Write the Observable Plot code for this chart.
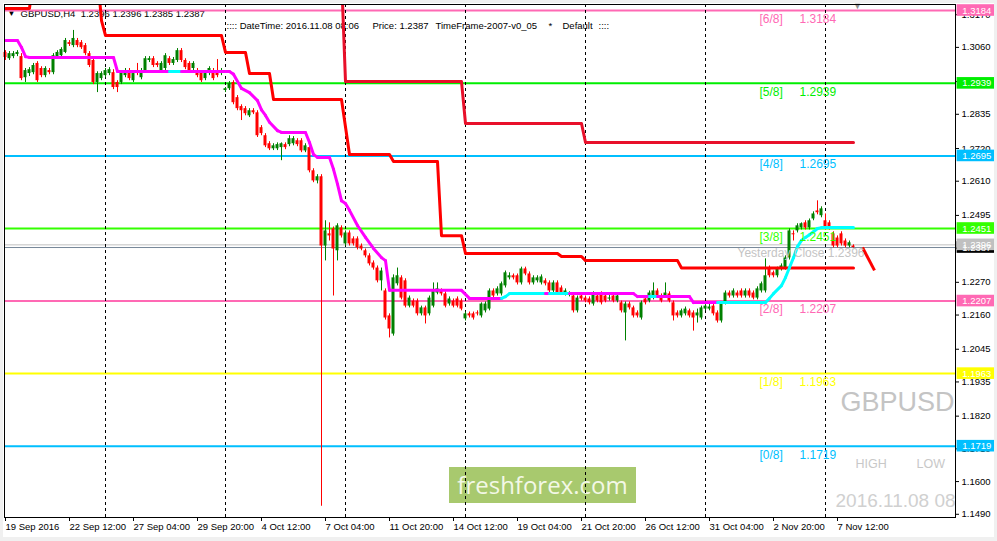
<!DOCTYPE html>
<html><head><meta charset="utf-8">
<script src="https://cdn.jsdelivr.net/npm/d3@7"></script>
<script src="https://cdn.jsdelivr.net/npm/@observablehq/plot@0.6"></script>
<style>
html,body{margin:0;padding:0;background:#fff;}
#wrap{position:relative;width:997px;height:541px;background:#f0f0f0;overflow:hidden;}
#inner{position:absolute;left:3px;top:3px;width:991px;height:534px;background:#fff;}
#wrap svg{position:absolute;left:0;top:0;}
</style></head><body><div id="wrap"><div id="inner"></div></div>
<script>
// ---- DATA ----
// H4 candles [open, high, low, close], bar index 0..212
const candlesOHLC = [
[1.3043,1.3049,1.3016,1.3026],[1.3022,1.3046,1.3016,1.3039],[1.3029,1.3046,1.3022,1.3039],[1.3036,1.3049,1.3029,1.3043],
[1.3029,1.3039,1.2948,1.2955],[1.2958,1.2989,1.2942,1.2982],[1.2972,1.2992,1.2962,1.2985],[1.2975,1.3006,1.2968,1.2999],
[1.3006,1.3012,1.2942,1.2948],[1.2989,1.2995,1.2958,1.2965],[1.2965,1.2995,1.2958,1.2989],[1.2982,1.2989,1.2968,1.2975],
[1.2975,1.3039,1.2968,1.3032],[1.3029,1.3049,1.3022,1.3043],[1.3032,1.3059,1.3026,1.3053],[1.3043,1.3090,1.3039,1.3083],
[1.3076,1.3083,1.3063,1.3070],[1.3066,1.3117,1.3059,1.3090],[1.3083,1.3090,1.3059,1.3066],[1.3076,1.3083,1.3053,1.3059],
[1.3066,1.3073,1.3032,1.3039],[1.3039,1.3046,1.2992,1.2999],[1.3016,1.3022,1.2935,1.2942],[1.2942,1.2978,1.2908,1.2972],
[1.2955,1.2978,1.2948,1.2972],[1.2965,1.2989,1.2958,1.2982],[1.2972,1.2992,1.2965,1.2985],[1.2975,1.2985,1.2918,1.2925],
[1.2942,1.2948,1.2908,1.2925],[1.2942,1.2982,1.2935,1.2975],[1.2965,1.2989,1.2958,1.2982],[1.2982,1.2989,1.2948,1.2955],
[1.2948,1.2978,1.2942,1.2972],[1.2982,1.3006,1.2965,1.2972],[1.2958,1.2989,1.2951,1.2982],[1.2982,1.3029,1.2975,1.3022],
[1.3016,1.3029,1.3009,1.3022],[1.3022,1.3029,1.2992,1.2999],[1.3006,1.3012,1.2992,1.2999],[1.2982,1.3012,1.2975,1.3006],
[1.2989,1.3039,1.2982,1.3032],[1.3022,1.3029,1.2999,1.3006],[1.3006,1.3026,1.2999,1.3019],[1.3016,1.3056,1.3009,1.3049],
[1.3049,1.3056,1.3009,1.3016],[1.3016,1.3022,1.2985,1.2992],[1.3006,1.3012,1.2975,1.2982],[1.2989,1.3012,1.2982,1.3006],
[1.2982,1.2989,1.2958,1.2965],[1.2975,1.2982,1.2942,1.2948],[1.2955,1.2978,1.2948,1.2972],[1.2972,1.2995,1.2965,1.2989],
[1.2982,1.2989,1.2948,1.2955],[1.2982,1.3019,1.2958,1.2965],[1.2972,1.2989,1.2965,1.2982],[1.2915,1.2925,1.2908,1.2921],
[1.2921,1.2945,1.2915,1.2938],[1.2942,1.2948,1.2867,1.2874],[1.2891,1.2898,1.2847,1.2854],[1.2861,1.2867,1.2814,1.2847],
[1.2854,1.2861,1.2830,1.2837],[1.2830,1.2854,1.2824,1.2847],[1.2847,1.2854,1.2834,1.2840],[1.2840,1.2847,1.2757,1.2763],
[1.2790,1.2797,1.2763,1.2770],[1.2763,1.2770,1.2723,1.2729],[1.2736,1.2743,1.2713,1.2719],[1.2719,1.2736,1.2713,1.2729],
[1.2719,1.2739,1.2713,1.2733],[1.2723,1.2739,1.2679,1.2736],[1.2733,1.2739,1.2716,1.2723],[1.2733,1.2763,1.2726,1.2753],
[1.2736,1.2760,1.2729,1.2753],[1.2746,1.2753,1.2726,1.2733],[1.2746,1.2753,1.2706,1.2712],[1.2712,1.2736,1.2706,1.2729],
[1.2723,1.2729,1.2638,1.2645],[1.2645,1.2652,1.2605,1.2611],[1.2611,1.2632,1.2601,1.2625],[1.2625,1.2632,1.1517,1.2392],
[1.2392,1.2477,1.2342,1.2443],[1.2433,1.2470,1.2409,1.2426],[1.2450,1.2456,1.2224,1.2382],[1.2376,1.2467,1.2342,1.2460],
[1.2453,1.2460,1.2419,1.2426],[1.2399,1.2443,1.2392,1.2436],[1.2436,1.2443,1.2392,1.2399],[1.2416,1.2423,1.2392,1.2399],
[1.2416,1.2423,1.2379,1.2386],[1.2392,1.2399,1.2376,1.2382],[1.2376,1.2382,1.2352,1.2359],[1.2359,1.2366,1.2325,1.2332],
[1.2335,1.2342,1.2311,1.2318],[1.2318,1.2325,1.2268,1.2275],[1.2275,1.2318,1.2241,1.2308],[1.2241,1.2248,1.2143,1.2150],
[1.2157,1.2164,1.2083,1.2113],[1.2096,1.2295,1.2089,1.2285],[1.2265,1.2318,1.2258,1.2292],[1.2285,1.2292,1.2211,1.2217],
[1.2275,1.2282,1.2184,1.2190],[1.2190,1.2224,1.2184,1.2217],[1.2207,1.2214,1.2184,1.2190],[1.2207,1.2214,1.2157,1.2164],
[1.2164,1.2190,1.2157,1.2184],[1.2184,1.2190,1.2130,1.2157],[1.2164,1.2224,1.2157,1.2217],[1.2190,1.2268,1.2184,1.2241],
[1.2234,1.2268,1.2228,1.2248],[1.2241,1.2248,1.2224,1.2231],[1.2231,1.2238,1.2184,1.2190],[1.2197,1.2221,1.2190,1.2214],
[1.2207,1.2214,1.2184,1.2190],[1.2214,1.2221,1.2184,1.2190],[1.2207,1.2214,1.2174,1.2180],[1.2147,1.2170,1.2140,1.2164],
[1.2164,1.2170,1.2150,1.2157],[1.2164,1.2170,1.2143,1.2150],[1.2167,1.2174,1.2157,1.2164],[1.2157,1.2201,1.2150,1.2197],
[1.2174,1.2204,1.2167,1.2197],[1.2180,1.2248,1.2174,1.2241],[1.2241,1.2248,1.2217,1.2224],[1.2231,1.2255,1.2224,1.2248],
[1.2231,1.2271,1.2224,1.2265],[1.2258,1.2308,1.2251,1.2302],[1.2285,1.2302,1.2278,1.2292],[1.2292,1.2298,1.2278,1.2285],
[1.2292,1.2298,1.2261,1.2268],[1.2268,1.2321,1.2261,1.2315],[1.2315,1.2321,1.2292,1.2298],[1.2298,1.2305,1.2261,1.2268],
[1.2268,1.2292,1.2261,1.2285],[1.2275,1.2292,1.2268,1.2285],[1.2268,1.2295,1.2261,1.2288],[1.2275,1.2282,1.2258,1.2265],
[1.2268,1.2275,1.2234,1.2241],[1.2241,1.2275,1.2234,1.2268],[1.2268,1.2275,1.2228,1.2234],[1.2251,1.2258,1.2228,1.2234],
[1.2231,1.2248,1.2224,1.2241],[1.2228,1.2238,1.2221,1.2231],[1.2224,1.2231,1.2167,1.2174],[1.2174,1.2224,1.2167,1.2217],
[1.2224,1.2231,1.2207,1.2214],[1.2217,1.2224,1.2201,1.2207],[1.2214,1.2221,1.2194,1.2201],[1.2197,1.2238,1.2190,1.2231],
[1.2224,1.2231,1.2201,1.2207],[1.2231,1.2238,1.2194,1.2201],[1.2224,1.2231,1.2201,1.2207],[1.2214,1.2228,1.2207,1.2217],
[1.2224,1.2231,1.2201,1.2207],[1.2207,1.2231,1.2201,1.2224],[1.2201,1.2207,1.2167,1.2174],[1.2167,1.2204,1.2073,1.2197],
[1.2197,1.2204,1.2177,1.2184],[1.2184,1.2190,1.2150,1.2157],[1.2167,1.2174,1.2150,1.2157],[1.2150,1.2207,1.2143,1.2201],
[1.2214,1.2221,1.2194,1.2201],[1.2207,1.2241,1.2201,1.2234],[1.2217,1.2268,1.2211,1.2241],[1.2241,1.2248,1.2217,1.2224],
[1.2224,1.2231,1.2201,1.2207],[1.2224,1.2268,1.2217,1.2234],[1.2231,1.2238,1.2201,1.2207],[1.2201,1.2207,1.2140,1.2157],
[1.2167,1.2174,1.2150,1.2157],[1.2157,1.2180,1.2150,1.2174],[1.2164,1.2187,1.2157,1.2180],[1.2174,1.2180,1.2150,1.2157],
[1.2167,1.2174,1.2106,1.2150],[1.2157,1.2180,1.2133,1.2167],[1.2150,1.2190,1.2143,1.2184],[1.2180,1.2197,1.2174,1.2190],
[1.2180,1.2201,1.2174,1.2187],[1.2190,1.2197,1.2157,1.2164],[1.2167,1.2174,1.2133,1.2140],[1.2140,1.2204,1.2133,1.2197],
[1.2201,1.2241,1.2194,1.2234],[1.2234,1.2241,1.2217,1.2224],[1.2224,1.2248,1.2217,1.2241],[1.2234,1.2241,1.2217,1.2224],
[1.2241,1.2248,1.2217,1.2224],[1.2224,1.2248,1.2217,1.2241],[1.2241,1.2248,1.2217,1.2224],[1.2234,1.2241,1.2211,1.2217],
[1.2217,1.2255,1.2211,1.2248],[1.2241,1.2271,1.2234,1.2265],[1.2241,1.2349,1.2234,1.2292],[1.2318,1.2325,1.2285,1.2292],
[1.2302,1.2308,1.2285,1.2292],[1.2292,1.2321,1.2285,1.2315],[1.2315,1.2332,1.2308,1.2325],[1.2318,1.2359,1.2311,1.2352],
[1.2352,1.2450,1.2345,1.2443],[1.2433,1.2443,1.2409,1.2430],[1.2443,1.2467,1.2436,1.2460],[1.2453,1.2470,1.2446,1.2467],
[1.2470,1.2477,1.2446,1.2453],[1.2453,1.2483,1.2446,1.2477],[1.2483,1.2507,1.2477,1.2500],[1.2510,1.2544,1.2497,1.2504],
[1.2494,1.2524,1.2487,1.2517],[1.2477,1.2500,1.2446,1.2453],[1.2470,1.2477,1.2446,1.2453],[1.2433,1.2440,1.2386,1.2392],
[1.2419,1.2426,1.2386,1.2392],[1.2433,1.2440,1.2392,1.2399],[1.2409,1.2416,1.2386,1.2392],[1.2392,1.2409,1.2386,1.2403],
[1.2392,1.2396,1.2385,1.2387]
];

// Murrey Math levels
const mmLevels = [1.3184, 1.2939, 1.2695, 1.2451, 1.2207, 1.1963, 1.1719];
const mmNames  = ["[6/8]", "[5/8]", "[4/8]", "[3/8]", "[2/8]", "[1/8]", "[0/8]"];
const mmColors = ["#ff69b4", "#00ee00", "#00bfff", "#33ff00", "#ff69b4", "#ffff00", "#00bfff"];

const yesterdayClose = 1.2396;
const bidPrice = 1.2387;

// upper stepped stop lines: [bar, price]
const stopA = [[0,1.3191],[6,1.3191],[7,1.3300],[23,1.3300],[24,1.3150],[25,1.3100],[54,1.3100],[55,1.3043],
  [60,1.3043],[61,1.2972],[66,1.2972],[67,1.2885],[84,1.2885],[86,1.2700],[96,1.2700],[97,1.2676],[108,1.2676],
  [109,1.2427],[114,1.2427],[115,1.2367],[138,1.2367],[139,1.2357],[144,1.2357],[145,1.2343],[168,1.2343],
  [169,1.2318],[212,1.2318]];
const stopB = [[84,1.3300],[85,1.2945],[114,1.2945],[115,1.2804],[144,1.2804],[145,1.2740],[212,1.2740]];

// trend line: [bar, price, up(1)/down(0)]
const trendLine = [[0,1.3083,0],[3,1.3083,0],[4,1.3060,0],[5,1.3029,0],[6,1.3026,0],[27,1.3026,0],[28,1.2979,0],
  [41,1.2979,0],[42,1.2979,1],[44,1.2979,1],[45,1.2979,0],[56,1.2979,0],[57,1.2970,0],[59,1.2922,0],[61,1.2908,0],
  [63,1.2881,0],[64,1.2850,0],[65,1.2831,0],[66,1.2808,0],[68,1.2780,0],[69,1.2774,0],[75,1.2774,0],[76,1.2740,0],
  [77,1.2700,0],[78,1.2690,0],[81,1.2690,0],[82,1.2650,0],[83,1.2600,0],[84,1.2544,0],[85,1.2535,0],[86,1.2512,0],
  [88,1.2461,0],[90,1.2421,0],[92,1.2384,0],[94,1.2353,0],[95,1.2343,0],[96,1.2243,0],[114,1.2243,0],[116,1.2216,0],
  [124,1.2216,0],[125,1.2222,1],[126,1.2232,1],[135,1.2232,1],[136,1.2232,0],[137,1.2232,1],[141,1.2232,1],
  [142,1.2232,0],[157,1.2232,0],[158,1.2222,0],[161,1.2222,0],[162,1.2222,1],[163,1.2222,1],[164,1.2222,0],
  [171,1.2222,0],[172,1.2202,0],[178,1.2202,0],[179,1.2202,1],[190,1.2202,1],[191,1.2216,1],[192,1.2232,1],
  [194,1.2259,1],[195,1.2286,1],[196,1.2320,1],[197,1.2353,1],[198,1.2390,1],[199,1.2411,1],[200,1.2421,1],
  [201,1.2430,1],[202,1.2440,1],[203,1.2451,1],[204,1.2454,1],[212,1.2454,1]];

// projection stroke after last bar
const projLine = [[214.25,1.2387],[217.25,1.2310]];

// week separators (Monday 00:00 bars)
const weekSeparators = [25, 55, 85, 115, 145, 175, 205];

// axis ticks
const xTickBars = [0,16,32,48,64,80,96,112,128,144,160,176,192,208];
const xTickLabels = ["19 Sep 2016","22 Sep 12:00","27 Sep 04:00","29 Sep 20:00","4 Oct 12:00","7 Oct 04:00",
  "11 Oct 20:00","14 Oct 12:00","19 Oct 04:00","21 Oct 20:00","26 Oct 12:00","31 Oct 04:00","2 Nov 20:00","7 Nov 12:00"];
const yTicks = [1.3170,1.3060,1.2945,1.2835,1.2720,1.2610,1.2495,1.2385,1.2270,1.2160,1.2045,1.1935,1.1820,1.1710,1.1600,1.1490];

const headerText = "GBPUSD,H4  1.2396 1.2396 1.2385 1.2387";

// ---- BUILD ----
const candles = candlesOHLC.map((b, i) => ({i, o: b[0], h: b[1], l: b[2], c: b[3], up: b[3] >= b[0]}));
const minBody = 0.00034;
candles.forEach(d => {
  const lo = Math.min(d.o, d.c), hi = Math.max(d.o, d.c);
  const pad = hi - lo < minBody ? (minBody - (hi - lo)) / 2 : 0;
  d.b1 = lo - pad; d.b2 = hi + pad;
});
const bullColor = "#008000", bearColor = "#ff0000";

const segs = [];
for (let k = 1; k < trendLine.length; k++) {
  segs.push({x1: trendLine[k-1][0], y1: trendLine[k-1][1], x2: trendLine[k][0], y2: trendLine[k][1], up: trendLine[k][2]});
}
const mm = mmLevels.map((p, k) => ({p, name: mmNames[k], color: mmColors[k]}));
const boxes = [
  ...mm.map(d => ({p: d.p, color: d.color})),
  {p: bidPrice, color: "#000000"},
  {p: yesterdayClose, color: "#c0c0c0"}
];
const xLabelOf = new Map(xTickBars.map((b, k) => [b, xTickLabels[k]]));
const halfBox = 0.00195;

const chart = Plot.plot({
  width: 997, height: 541,
  marginLeft: 4, marginRight: 42, marginTop: 4, marginBottom: 24,
  x: {domain: [-0.25, 237.5], axis: null},
  y: {domain: [1.14792, 1.32042], axis: null},
  style: {fontFamily: "'Liberation Sans', Arial, sans-serif", fontSize: "9.5px", background: "transparent", color: "black", overflow: "visible"},
  marks: [
    // header texts (under lines)
    Plot.text(["\u25BC"], {frameAnchor: "top-left", dx: 7, dy: 9, text: d => d, fontSize: 8, fill: "black", textAnchor: "middle", lineAnchor: "middle"}),
    Plot.text([headerText], {frameAnchor: "top-left", dx: 16, dy: 9, text: d => d, fill: "black", textAnchor: "start", lineAnchor: "middle"}),
    Plot.text([":::: DateTime: 2016.11.08 08:06"], {frameAnchor: "top-left", dx: 222, dy: 21.5, text: d => d, fill: "#000", textAnchor: "start", lineAnchor: "middle"}),
    Plot.text(["Price: 1.2387"], {frameAnchor: "top-left", dx: 368, dy: 21.5, text: d => d, fill: "#000", textAnchor: "start", lineAnchor: "middle"}),
    Plot.text(["TimeFrame-2007-v0_05"], {frameAnchor: "top-left", dx: 431, dy: 21.5, text: d => d, fill: "#000", textAnchor: "start", lineAnchor: "middle"}),
    Plot.text(["*"], {frameAnchor: "top-left", dx: 544, dy: 21.5, text: d => d, fill: "#000", textAnchor: "start", lineAnchor: "middle"}),
    Plot.text(["Default"], {frameAnchor: "top-left", dx: 558, dy: 21.5, text: d => d, fill: "#000", textAnchor: "start", lineAnchor: "middle"}),
    Plot.text(["::::"], {frameAnchor: "top-left", dx: 594, dy: 21.5, text: d => d, fill: "#000", textAnchor: "start", lineAnchor: "middle"}),
    // watermark texts
    Plot.text(["GBPUSD"], {frameAnchor: "top-left", dx: 836, dy: 398, text: d => d, fill: "#c4c4c4", fontSize: 27, textAnchor: "start", lineAnchor: "middle"}),
    Plot.text(["HIGH"], {frameAnchor: "top-left", dx: 851, dy: 459, text: d => d, fill: "#c8c8c8", fontSize: 12.5, textAnchor: "start", lineAnchor: "middle"}),
    Plot.text(["LOW"], {frameAnchor: "top-left", dx: 912, dy: 459, text: d => d, fill: "#c8c8c8", fontSize: 12.5, textAnchor: "start", lineAnchor: "middle"}),
    Plot.text(["2016.11.08 08:06"], {frameAnchor: "top-left", dx: 831, dy: 496.5, text: d => d, fill: "#d0d0d0", fontSize: 19, textAnchor: "start", lineAnchor: "middle", clip: true}),
    // Murrey levels
    Plot.ruleY(mm, {y: "p", stroke: "color", strokeWidth: 2}),
    Plot.ruleY([yesterdayClose], {stroke: "#c0c0c0", strokeWidth: 1}),
    Plot.ruleY([bidPrice], {stroke: "#778899", strokeWidth: 1}),
    // week separators
    Plot.ruleX(weekSeparators, {x: d => d, stroke: "black", strokeWidth: 1, strokeDasharray: "3,3"}),
    // candles
    Plot.ruleX(candles, {x: "i", y1: "l", y2: "h", stroke: d => d.up ? bullColor : bearColor, strokeWidth: 1}),
    Plot.rect(candles, {x1: d => d.i - 0.375, x2: d => d.i + 0.375, y1: "b1", y2: "b2", fill: d => d.up ? bullColor : bearColor}),
    // stop lines
    Plot.line(stopA, {x: d => d[0], y: d => d[1], stroke: "#ff0000", strokeWidth: 3, clip: true}),
    Plot.line(stopB, {x: d => d[0], y: d => d[1], stroke: "#e8102a", strokeWidth: 3, clip: true}),
    // trend line
    Plot.link(segs, {x1: "x1", y1: "y1", x2: "x2", y2: "y2", stroke: d => d.up ? "#00ffff" : "#ff00ff", strokeWidth: 3, strokeLinecap: "round"}),
    // projection
    Plot.link([projLine], {x1: d => d[0][0], y1: d => d[0][1], x2: d => d[1][0], y2: d => d[1][1], stroke: "#ff0000", strokeWidth: 3}),
    // level labels
    Plot.text(mm, {y: "p", frameAnchor: "left", dx: 755, dy: 8.5, text: "name", fill: "color", fontSize: 12, textAnchor: "start", lineAnchor: "middle"}),
    Plot.text(mm, {y: "p", frameAnchor: "left", dx: 795, dy: 8.5, text: d => d.p.toFixed(4), fill: "color", fontSize: 12, textAnchor: "start", lineAnchor: "middle"}),
    Plot.text([yesterdayClose], {y: d => d, frameAnchor: "left", dx: 733, dy: 8, text: d => "Yesterday Close " + d.toFixed(4), fill: "#c4c4c4", fontSize: 12, textAnchor: "start", lineAnchor: "middle"}),
    // chart shift marker
    Plot.text(["\u25BC"], {frameAnchor: "top-left", dx: 853, dy: 2, text: d => d, fill: "#909090", fontSize: 9, textAnchor: "middle", lineAnchor: "middle"}),
    // axes
    Plot.axisY(yTicks, {anchor: "right", tickSize: 3, tickPadding: 3, tickFormat: d => d.toFixed(4), fontSize: 9.5, stroke: "black", fill: "black"}),
    Plot.axisX(xTickBars, {anchor: "bottom", tickSize: 4, tickPadding: 2, tickFormat: d => xLabelOf.get(d), textAnchor: "start", dx: 0, fontSize: 9.5, stroke: "black", fill: "black"}),
    // right price boxes
    Plot.rect(boxes, {x1: 237.9, x2: 247.25, y1: d => d.p - halfBox, y2: d => d.p + halfBox, fill: "color"}),
    Plot.text(boxes, {x: 239.2, y: "p", text: d => d.p.toFixed(4), fill: "white", fontSize: 9.5, textAnchor: "start", lineAnchor: "middle"}),
    Plot.frame({stroke: "black", strokeWidth: 1})
  ]
});

document.getElementById("wrap").appendChild(chart);

// freshforex watermark block (decoration, beneath the marks)
const svg = d3.select(chart);
const wm = svg.insert("g", "g");
wm.append("rect").attr("x", 449).attr("y", 467).attr("width", 187).attr("height", 36).attr("fill", "#a8c96e");
wm.append("text").attr("x", 542.5).attr("y", 494).attr("text-anchor", "middle")
  .attr("font-family", "'Open Sans', sans-serif").attr("font-size", 24).attr("fill", "#f3f8e6").text("freshforex.com");
</script>
</body></html>
